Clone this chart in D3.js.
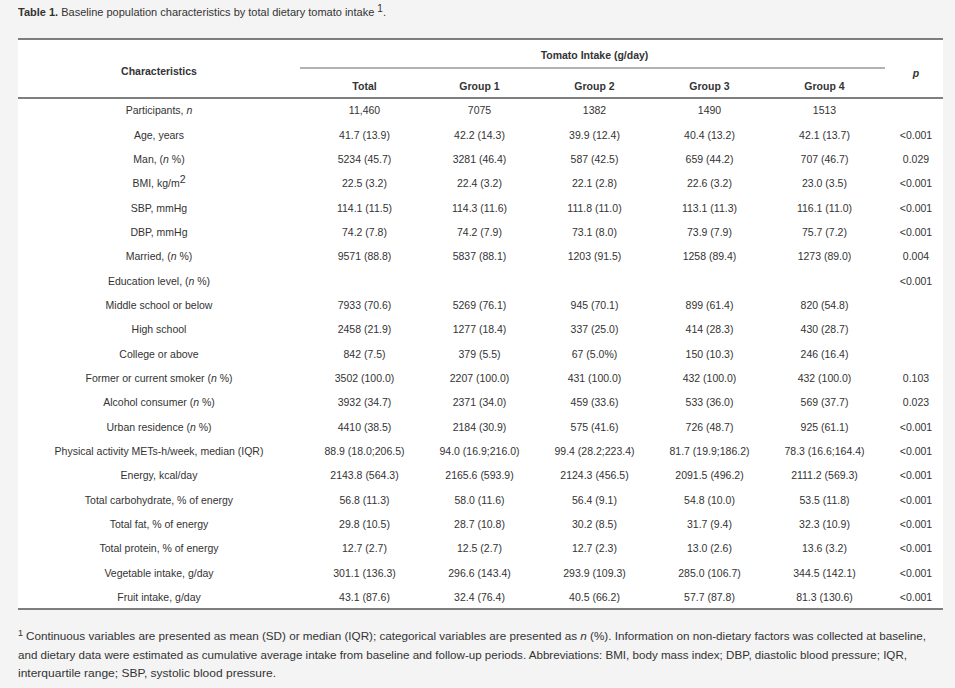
<!DOCTYPE html>
<html lang="en">
<head>
    <meta charset="UTF-8">
    <title>Table 1. Baseline population characteristics</title>
    <script src="https://d3js.org/d3.v7.min.js"></script>
    <style>
        body {
            margin: 0;
            background: #f4f4f4;
            font-family: "Liberation Sans", Arial, sans-serif;
        }
        svg text {
            fill: #333;
            font-size: 10.5px;
        }
    </style>
</head>
<body>
    <svg></svg>

    <script>
        // Row labels (italic "n" marked with {n})
        const characteristics = [
            "Participants, {n}", "Age, years", "Man, ({n} %)", "BMI, kg/m{2}",
            "SBP, mmHg", "DBP, mmHg", "Married, ({n} %)", "Education level, ({n} %)",
            "Middle school or below", "High school", "College or above",
            "Former or current smoker ({n} %)", "Alcohol consumer ({n} %)",
            "Urban residence ({n} %)", "Physical activity METs-h/week, median (IQR)",
            "Energy, kcal/day", "Total carbohydrate, % of energy", "Total fat, % of energy",
            "Total protein, % of energy", "Vegetable intake, g/day", "Fruit intake, g/day"
        ];

        const groups = ["Total", "Group 1", "Group 2", "Group 3", "Group 4"];

        const totalCol = ["11,460", "41.7 (13.9)", "5234 (45.7)", "22.5 (3.2)", "114.1 (11.5)",
            "74.2 (7.8)", "9571 (88.8)", "", "7933 (70.6)", "2458 (21.9)", "842 (7.5)",
            "3502 (100.0)", "3932 (34.7)", "4410 (38.5)", "88.9 (18.0;206.5)",
            "2143.8 (564.3)", "56.8 (11.3)", "29.8 (10.5)", "12.7 (2.7)", "301.1 (136.3)", "43.1 (87.6)"];
        const group1 = ["7075", "42.2 (14.3)", "3281 (46.4)", "22.4 (3.2)", "114.3 (11.6)",
            "74.2 (7.9)", "5837 (88.1)", "", "5269 (76.1)", "1277 (18.4)", "379 (5.5)",
            "2207 (100.0)", "2371 (34.0)", "2184 (30.9)", "94.0 (16.9;216.0)",
            "2165.6 (593.9)", "58.0 (11.6)", "28.7 (10.8)", "12.5 (2.7)", "296.6 (143.4)", "32.4 (76.4)"];
        const group2 = ["1382", "39.9 (12.4)", "587 (42.5)", "22.1 (2.8)", "111.8 (11.0)",
            "73.1 (8.0)", "1203 (91.5)", "", "945 (70.1)", "337 (25.0)", "67 (5.0%)",
            "431 (100.0)", "459 (33.6)", "575 (41.6)", "99.4 (28.2;223.4)",
            "2124.3 (456.5)", "56.4 (9.1)", "30.2 (8.5)", "12.7 (2.3)", "293.9 (109.3)", "40.5 (66.2)"];
        const group3 = ["1490", "40.4 (13.2)", "659 (44.2)", "22.6 (3.2)", "113.1 (11.3)",
            "73.9 (7.9)", "1258 (89.4)", "", "899 (61.4)", "414 (28.3)", "150 (10.3)",
            "432 (100.0)", "533 (36.0)", "726 (48.7)", "81.7 (19.9;186.2)",
            "2091.5 (496.2)", "54.8 (10.0)", "31.7 (9.4)", "13.0 (2.6)", "285.0 (106.7)", "57.7 (87.8)"];
        const group4 = ["1513", "42.1 (13.7)", "707 (46.7)", "23.0 (3.5)", "116.1 (11.0)",
            "75.7 (7.2)", "1273 (89.0)", "", "820 (54.8)", "430 (28.7)", "246 (16.4)",
            "432 (100.0)", "569 (37.7)", "925 (61.1)", "78.3 (16.6;164.4)",
            "2111.2 (569.3)", "53.5 (11.8)", "32.3 (10.9)", "13.6 (3.2)", "344.5 (142.1)", "81.3 (130.6)"];
        const pValues = ["", "<0.001", "0.029", "<0.001", "<0.001", "<0.001", "0.004", "<0.001",
            "", "", "", "0.103", "0.023", "<0.001", "<0.001", "<0.001", "<0.001", "<0.001",
            "<0.001", "<0.001", "<0.001"];

        const footnoteLines = [
            "Continuous variables are presented as mean (SD) or median (IQR); categorical variables are presented as {n} (%). Information on non-dietary factors was collected at baseline,",
            "and dietary data were estimated as cumulative average intake from baseline and follow-up periods. Abbreviations: BMI, body mass index; DBP, diastolic blood pressure; IQR,",
            "interquartile range; SBP, systolic blood pressure."
        ];

        const W = 955, H = 688;
        const left = 18, right = 943;
        const tableTop = 39, headBottom = 98, tableBottom = 609;

        const svg = d3.select("svg").attr("width", W).attr("height", H);

        const groupCols = [totalCol, group1, group2, group3, group4];

        // Scales
        const x = d3.scaleBand().domain(groups).range([307, 882]);
        const y = d3.scaleBand().domain(d3.range(characteristics.length)).range([headBottom, tableBottom]);
        const labelX = 159, pX = 916;

        // Helper: write text with {n} italic, {2} superscript
        function richText(sel, str) {
            str.split(/(\{[^}]+\})/).filter(s => s.length).forEach(part => {
                const m = part.match(/^\{(.+)\}$/);
                if (m && m[1] === "n") {
                    sel.append("tspan").attr("font-style", "italic").text("n");
                } else if (m) {
                    sel.append("tspan").attr("dy", -4).style("font-size", "10.5px").text(m[1]);
                } else {
                    sel.append("tspan").text(part);
                }
            });
        }

        // White table panel
        svg.append("rect")
           .attr("x", left).attr("y", tableTop)
           .attr("width", right - left).attr("height", tableBottom - tableTop)
           .attr("fill", "#fff");

        // Title
        const title = svg.append("text").attr("x", left).attr("y", 16).style("font-size", "11px");
        title.append("tspan").attr("font-weight", "bold").text("Table 1.");
        title.append("tspan").text(" Baseline population characteristics by total dietary tomato intake ");
        title.append("tspan").attr("dy", -4).style("font-size", "10px").text("1");
        title.append("tspan").attr("dy", 4).text(".");

        // Rules
        const rule = (x1, x2, yy, color, w) => svg.append("line")
            .attr("x1", x1).attr("x2", x2).attr("y1", yy).attr("y2", yy)
            .attr("stroke", color).attr("stroke-width", w);
        rule(left, right, tableTop, "#555", 1.5);
        rule(x.range()[0] - 7, x.range()[1] + 3, 68, "#999", 1.3);
        rule(left, right, headBottom, "#555", 1.5);
        rule(left, right, tableBottom, "#555", 1.5);

        // Header
        svg.append("text").attr("x", labelX).attr("y", 75)
           .attr("text-anchor", "middle").attr("font-weight", "bold").text("Characteristics");
        svg.append("text").attr("x", (x.range()[0] + x.range()[1]) / 2).attr("y", 59)
           .attr("text-anchor", "middle").attr("font-weight", "bold").text("Tomato Intake (g/day)");
        svg.append("text").attr("x", pX).attr("y", 77)
           .attr("text-anchor", "middle").attr("font-weight", "bold").attr("font-style", "italic").text("p");
        svg.selectAll(".colhead")
           .data(groups)
           .enter().append("text")
           .attr("class", "colhead")
           .attr("x", d => x(d) + x.bandwidth() / 2)
           .attr("y", 90)
           .attr("text-anchor", "middle").attr("font-weight", "bold")
           .text(d => d);

        // Row labels
        svg.selectAll(".rowlabel")
           .data(characteristics)
           .enter().append("text")
           .attr("class", "rowlabel")
           .attr("x", labelX)
           .attr("y", (d, i) => y(i) + y.bandwidth() / 2 + 4)
           .attr("text-anchor", "middle")
           .each(function(d) { richText(d3.select(this), d); });

        // Cells
        groups.forEach((g, gi) => {
            svg.selectAll(".cell" + gi)
               .data(groupCols[gi])
               .enter().append("text")
               .attr("x", x(g) + x.bandwidth() / 2)
               .attr("y", (d, i) => y(i) + y.bandwidth() / 2 + 4)
               .attr("text-anchor", "middle")
               .text(d => d);
        });

        svg.selectAll(".pval")
           .data(pValues)
           .enter().append("text")
           .attr("class", "pval")
           .attr("x", pX)
           .attr("y", (d, i) => y(i) + y.bandwidth() / 2 + 4)
           .attr("text-anchor", "middle")
           .text(d => d);

        // Footnote
        const footY = [640, 659, 677];
        const footEnd = [926, 907, 276];
        footnoteLines.forEach((line, i) => {
            const startX = i === 0 ? 26 : 18;
            if (i === 0) {
                svg.append("text").attr("x", 18).attr("y", footY[0] - 4)
                   .style("font-size", "9px").text("1");
            }
            const t = svg.append("text").attr("x", startX).attr("y", footY[i])
               .attr("textLength", footEnd[i] - startX)
               .attr("lengthAdjust", "spacingAndGlyphs")
               .style("font-size", "11.5px");
            richText(t, line);
        });
    </script>
</body>
</html>
